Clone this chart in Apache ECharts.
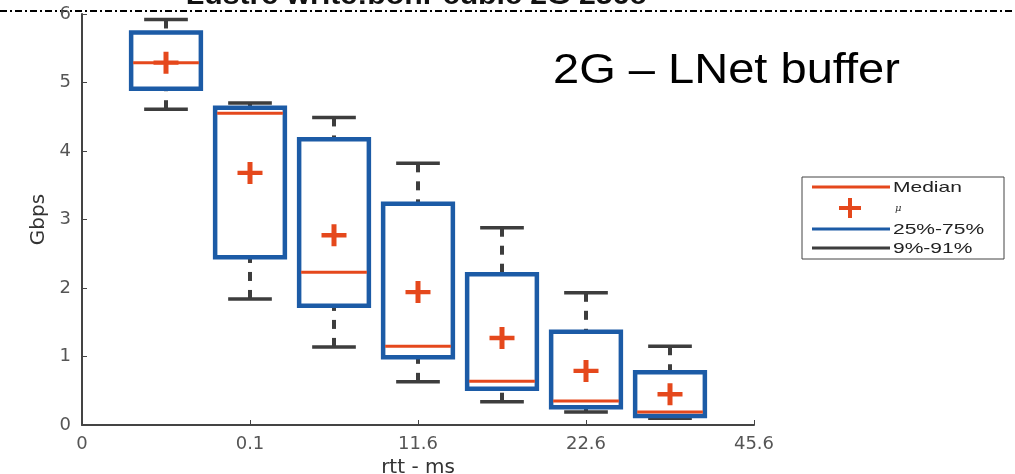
<!DOCTYPE html>
<html>
<head>
<meta charset="utf-8">
<script src="https://cdn.jsdelivr.net/npm/echarts@6/dist/echarts.min.js"></script>
<style>html,body{margin:0;padding:0;background:#fff}#c{width:1015px;height:474px}</style>
</head>
<body>
<div id="c"></div>
<script>
// ---- data ----
const xTickLabels = ['0', '0.1', '11.6', '22.6', '45.6'];   // at x = 0,2,4,6,8
const positions   = [1, 2, 3, 4, 5, 6, 7];
const whiskerLow  = [4.61, 1.84, 1.14, 0.63, 0.34, 0.19, 0.10];
const q1          = [4.91, 2.45, 1.74, 0.99, 0.53, 0.26, 0.13];
const median      = [5.29, 4.55, 2.23, 1.15, 0.64, 0.35, 0.19];
const q3          = [5.73, 4.63, 4.17, 3.23, 2.20, 1.36, 0.77];
const whiskerHigh = [5.92, 4.70, 4.49, 3.82, 2.88, 1.93, 1.15];
const meanVals    = [5.29, 3.68, 2.77, 1.94, 1.27, 0.79, 0.45];
const titleText = 'Lustre write:bohr cubic 2G 256c';
const annotation = '2G \u2013 LNet buffer';
const legendLabels = ['Median', '\u03bc', '25%-75%', '9%-91%'];

const BLUE = '#1c5ba6', ORANGE = '#e5481c', GRAY = '#3d3d3d';
const BOX_W = 0.83, CAP_W = 0.52;
const PLUS = 'path://M-2,-10 L2,-10 L2,-2 L10,-2 L10,2 L2,2 L2,10 L-2,10 L-2,2 L-10,2 L-10,-2 L-2,-2 Z';
const FONT = '"DejaVu Sans", sans-serif';

const boxData = positions.map((p, i) => [p, whiskerLow[i], q1[i], median[i], q3[i], whiskerHigh[i]]);
const meanData = positions.map((p, i) => [p, meanVals[i]]);

function renderBox(params, api) {
  const x = api.value(0);
  const pLo = api.coord([x, api.value(1)]);
  const pQ1 = api.coord([x, api.value(2)]);
  const pMed = api.coord([x, api.value(3)]);
  const pQ3 = api.coord([x, api.value(4)]);
  const pHi = api.coord([x, api.value(5)]);
  const bw = api.size([BOX_W, 0])[0];
  const cw = api.size([CAP_W, 0])[0];
  const cx = pMed[0];
  const dash = {stroke: GRAY, lineWidth: 4, lineDash: [9, 9]};
  const cap = {stroke: GRAY, lineWidth: 3.5};
  return {
    type: 'group',
    children: [
      {type: 'line', shape: {x1: cx, y1: pHi[1], x2: cx, y2: pQ3[1]}, style: dash},
      {type: 'line', shape: {x1: cx, y1: pLo[1], x2: cx, y2: pQ1[1]}, style: dash},
      {type: 'line', shape: {x1: cx - cw / 2, y1: pHi[1], x2: cx + cw / 2, y2: pHi[1]}, style: cap},
      {type: 'line', shape: {x1: cx - cw / 2, y1: pLo[1], x2: cx + cw / 2, y2: pLo[1]}, style: cap},
      {type: 'rect', shape: {x: cx - bw / 2, y: pQ3[1], width: bw, height: pQ1[1] - pQ3[1]},
        style: {fill: 'rgba(255,255,255,0)', stroke: BLUE, lineWidth: 4.5}},
      {type: 'line', shape: {x1: cx - bw / 2 + 2, y1: pMed[1], x2: cx + bw / 2 - 2, y2: pMed[1]},
        style: {stroke: ORANGE, lineWidth: 3}}
    ]
  };
}

const LX = 802, LY = 177, LW = 202, LH = 82;
const legendRows = [187, 208, 229, 248];
const legendText = (t, y) => ({type: 'text', x: 893, y: y, scaleX: 1.4, z: 11,
  style: {text: t, fill: '#222', font: '15px "Liberation Sans", Arial, sans-serif', verticalAlign: 'middle'}});
function plusPoints(cx, cy, hw, hh, t) {
  return [[cx - t, cy - hh], [cx + t, cy - hh], [cx + t, cy - t], [cx + hw, cy - t], [cx + hw, cy + t],
    [cx + t, cy + t], [cx + t, cy + hh], [cx - t, cy + hh], [cx - t, cy + t], [cx - hw, cy + t],
    [cx - hw, cy - t], [cx - t, cy - t]];
}

const chart = echarts.init(document.getElementById('c'));
chart.setOption({
  animation: false,
  backgroundColor: '#fff',
  grid: {left: 82, right: 261, top: 14, bottom: 49, containLabel: false, outerBoundsMode: 'none'},
  xAxis: {
    type: 'value', min: 0, max: 8, interval: 2,
    name: 'rtt - ms', nameLocation: 'middle', nameGap: 29,
    nameTextStyle: {fontSize: 20, color: '#333', fontFamily: FONT},
    axisLine: {lineStyle: {color: '#444', width: 2}},
    axisTick: {inside: true, length: 5, lineStyle: {color: '#444'}},
    axisLabel: {formatter: v => xTickLabels[v / 2], fontSize: 18, color: '#555', margin: 10, fontFamily: FONT},
    splitLine: {show: false}
  },
  yAxis: {
    type: 'value', min: 0, max: 6, interval: 1,
    name: 'Gbps', nameLocation: 'middle', nameGap: 30, nameRotate: 90,
    nameTextStyle: {fontSize: 20, color: '#333', fontFamily: FONT},
    axisLine: {show: true, lineStyle: {color: '#444', width: 2}},
    axisTick: {show: true, inside: true, length: 5, lineStyle: {color: '#444'}},
    axisLabel: {fontSize: 18, color: '#555', margin: 11, fontFamily: FONT},
    splitLine: {show: false}
  },
  series: [
    {type: 'custom', renderItem: renderBox, data: boxData, encode: {x: 0, y: [1, 2, 3, 4, 5]}, z: 2, clip: false},
    {type: 'scatter', data: meanData, symbol: PLUS, symbolSize: [25, 22],
      itemStyle: {color: ORANGE, opacity: 1}, z: 5}
  ],
  graphic: [
    {type: 'line', shape: {x1: 0, y1: 11, x2: 1015, y2: 11},
      style: {stroke: '#000', lineWidth: 2, lineDash: [7, 3, 2, 3]}},
    {type: 'text', x: 416, y: 10, scaleX: 1.12,
      style: {text: titleText, fill: '#111', font: 'bold 27px "Liberation Sans", Arial, sans-serif',
        align: 'center', verticalAlign: 'bottom'}},
    {type: 'text', x: 553, y: 71, scaleX: 1.12,
      style: {text: annotation, fill: '#000', font: '42px "Liberation Sans", Arial, sans-serif',
        align: 'left', verticalAlign: 'middle'}},
    {type: 'rect', shape: {x: LX, y: LY, width: LW, height: LH},
      style: {fill: '#fff', stroke: '#444', lineWidth: 1}, z: 10},
    {type: 'line', shape: {x1: 812, y1: legendRows[0], x2: 890, y2: legendRows[0]},
      style: {stroke: ORANGE, lineWidth: 3}, z: 11},
    {type: 'polygon', shape: {points: plusPoints(850, legendRows[1], 11, 10, 2)},
      style: {fill: ORANGE}, z: 11},
    {type: 'line', shape: {x1: 812, y1: legendRows[2], x2: 890, y2: legendRows[2]},
      style: {stroke: BLUE, lineWidth: 3}, z: 11},
    {type: 'line', shape: {x1: 812, y1: legendRows[3], x2: 890, y2: legendRows[3]},
      style: {stroke: GRAY, lineWidth: 3}, z: 11},
    legendText(legendLabels[0], legendRows[0] + 1),
    {type: 'text', x: 895, y: legendRows[1], z: 11,
      style: {text: legendLabels[1], fill: '#333', font: 'italic 10px "DejaVu Serif", serif', verticalAlign: 'middle'}},
    legendText(legendLabels[2], legendRows[2] + 1),
    legendText(legendLabels[3], legendRows[3] + 1)
  ]
});
</script>
</body>
</html>
